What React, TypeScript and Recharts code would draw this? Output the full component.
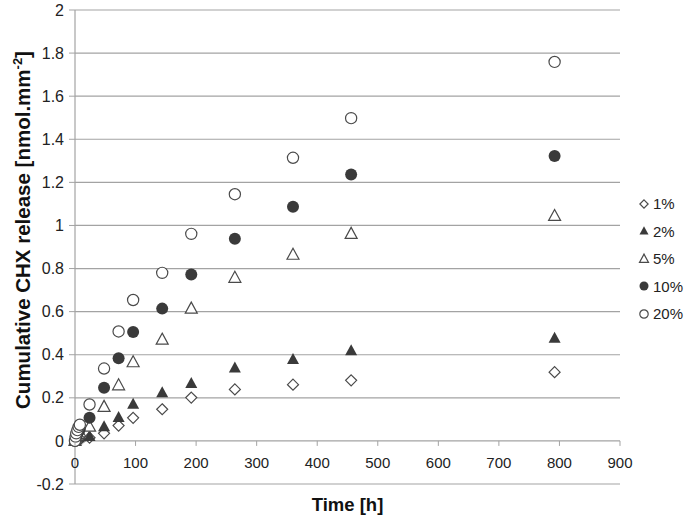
import React from 'react';
import { ScatterChart, Scatter, XAxis, YAxis, CartesianGrid, Legend, Label } from 'recharts';

// sampling times [h]
const TIMES = [0, 1, 2, 4, 6, 8, 24, 48, 72, 96, 144, 192, 264, 360, 456, 792];

// cumulative release [nmol.mm-2]
const CHX_1 = [0, 0.002, 0.004, 0.007, 0.01, 0.012, 0.015, 0.035, 0.071, 0.107, 0.147, 0.201, 0.239, 0.261, 0.281, 0.319];
const CHX_2 = [0, 0.003, 0.006, 0.01, 0.014, 0.018, 0.02, 0.066, 0.109, 0.17, 0.224, 0.266, 0.338, 0.378, 0.419, 0.476];
const CHX_5 = [0, 0.008, 0.015, 0.025, 0.032, 0.04, 0.066, 0.158, 0.258, 0.365, 0.47, 0.614, 0.757, 0.864, 0.961, 1.044];
const CHX_10 = [0, 0.012, 0.02, 0.035, 0.045, 0.055, 0.107, 0.247, 0.384, 0.505, 0.614, 0.772, 0.938, 1.087, 1.237, 1.322];
const CHX_20 = [0, 0.02, 0.035, 0.05, 0.065, 0.075, 0.169, 0.336, 0.508, 0.654, 0.78, 0.961, 1.145, 1.314, 1.498, 1.759];

const X_TICKS = [0, 100, 200, 300, 400, 500, 600, 700, 800, 900];
const Y_TICKS = [-0.2, 0, 0.2, 0.4, 0.6, 0.8, 1, 1.2, 1.4, 1.6, 1.8, 2];

const SERIES = [
  { name: '1%', values: CHX_1, kind: 'diamond' },
  { name: '2%', values: CHX_2, kind: 'triFill' },
  { name: '5%', values: CHX_5, kind: 'triOpen' },
  { name: '10%', values: CHX_10, kind: 'dot' },
  { name: '20%', values: CHX_20, kind: 'ring' },
];

const W = 685;
const H = 516;
const TOP = 10;
const BOTTOM = 484;
const LEFT = 75;
const RIGHT = 620;
const Y_MIN = -0.2;
const Y_MAX = 2;
// pixel row of the y = 0 line, where the x axis crosses
const Y0 = TOP + ((Y_MAX - 0) / (Y_MAX - Y_MIN)) * (BOTTOM - TOP);

const GRID = '#a3a3a3';
const INK = '#3a3a3a';
const FONT = '"Liberation Sans", Arial, Helvetica, sans-serif';

const Marker = ({ kind, cx, cy, k = 1 }: any) => {
  if (cx == null || cy == null) return null;
  const s = k;
  switch (kind) {
    case 'diamond':
      return (
        <path
          d={`M${cx},${cy - 5.5 * s}L${cx + 5.5 * s},${cy}L${cx},${cy + 5.5 * s}L${cx - 5.5 * s},${cy}Z`}
          fill="#fff"
          stroke="#4a4a4a"
          strokeWidth={1.2}
        />
      );
    case 'triFill':
    case 'triOpen': {
      const pts = `${cx},${cy - 6.5 * s} ${cx + 6 * s},${cy + 4.5 * s} ${cx - 6 * s},${cy + 4.5 * s}`;
      return kind === 'triFill' ? (
        <polygon points={pts} fill={INK} />
      ) : (
        <polygon points={pts} fill="#fff" stroke="#4a4a4a" strokeWidth={1.2} />
      );
    }
    case 'dot':
      return <circle cx={cx} cy={cy} r={6 * s} fill={INK} />;
    default:
      return <circle cx={cx} cy={cy} r={5.6 * s} fill="#fff" stroke="#4a4a4a" strokeWidth={1.2} />;
  }
};

// x axis is drawn where y = 0, Excel style
const XTick = ({ x, payload }: any) => (
  <g>
    <line x1={x} x2={x} y1={Y0} y2={Y0 + 5} stroke={GRID} />
    <text x={x} y={Y0 + 22} dy="0.35em" textAnchor="middle" fontSize={15} fill="#222" fontFamily={FONT}>
      {payload.value}
    </text>
  </g>
);

const YTitle = () => (
  <text
    transform={`translate(23, 230) rotate(-90)`}
    textAnchor="middle"
    dy="0.35em"
    fontSize={20.5}
    fontWeight="bold"
    fill="#111"
    fontFamily={FONT}
  >
    <tspan>Cumulative CHX release [nmol.mm</tspan>
    <tspan fontSize={13} dy={-8}>-2</tspan>
    <tspan dy={8}>]</tspan>
  </text>
);

const LegendBox = () => (
  <div style={{ fontFamily: FONT, fontSize: 15, color: '#222' }}>
    {SERIES.map((s) => (
      <div key={s.name} style={{ height: 27.5, display: 'flex', alignItems: 'center' }}>
        <svg width={14} height={14} style={{ marginRight: 2 }}>
          <Marker kind={s.kind} cx={7} cy={7} k={0.75} />
        </svg>
        <span>{s.name}</span>
      </div>
    ))}
  </div>
);

export default function App() {
  return (
    <div style={{ position: 'absolute', left: 0, top: 0, width: W, height: H, background: '#fff', fontFamily: FONT }}>
      <ScatterChart width={W} height={H} margin={{ top: TOP, right: W - RIGHT, bottom: 0, left: 0 }}>
        <CartesianGrid horizontal vertical={false} stroke={GRID} strokeWidth={1.2} />
        <XAxis
          type="number"
          dataKey="t"
          domain={[0, 900]}
          ticks={X_TICKS}
          height={H - BOTTOM}
          axisLine={false}
          tickLine={false}
          tick={<XTick />}
          interval={0}
        >
          <Label value="Time [h]" position="insideBottom" offset={5} fontSize={18.5} fontWeight="bold" fill="#111" />
        </XAxis>
        <YAxis
          type="number"
          dataKey="v"
          domain={[Y_MIN, Y_MAX]}
          ticks={Y_TICKS}
          width={LEFT}
          interval={0}
          axisLine={{ stroke: GRID, strokeWidth: 1.2 }}
          tickLine={{ stroke: GRID }}
          tickSize={6}
          tickMargin={5}
          tick={{ fontSize: 16, fill: '#222', fontFamily: FONT }}
        >
          <Label content={<YTitle />} />
        </YAxis>
        <Legend
          layout="horizontal"
          align="center"
          verticalAlign="middle"
          content={<LegendBox />}
          wrapperStyle={{ left: 637, top: 190, width: 48 }}
        />
        {SERIES.map((s) => (
          <Scatter
            key={s.name}
            name={s.name}
            data={TIMES.map((t, i) => ({ t, v: s.values[i] }))}
            isAnimationActive={false}
            shape={(p: any) => <Marker kind={s.kind} cx={p.cx} cy={p.cy} />}
          />
        ))}
      </ScatterChart>
    </div>
  );
}
